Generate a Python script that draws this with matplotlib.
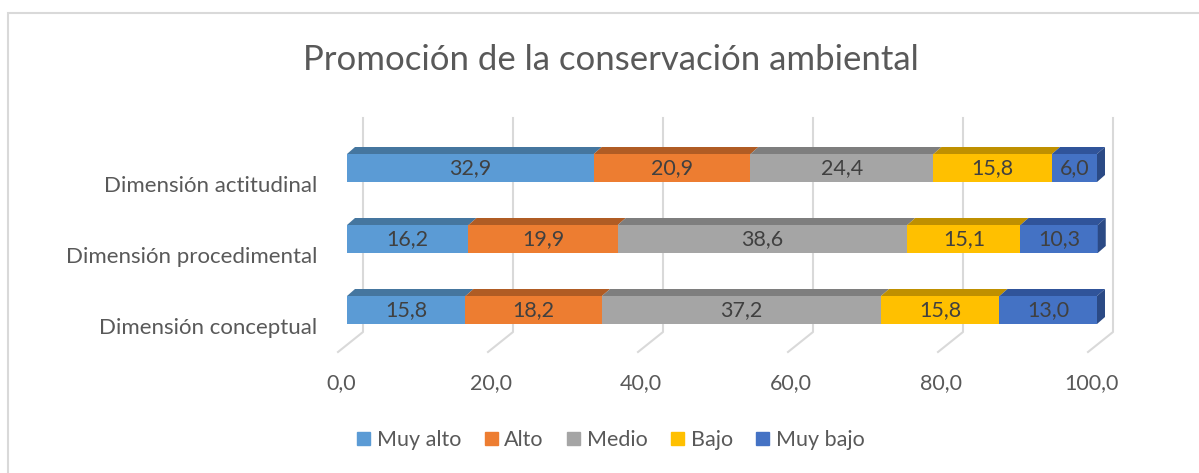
import matplotlib.pyplot as plt
from matplotlib.patches import Polygon, Patch, Rectangle
import numpy as np

plt.rcParams['font.family'] = ['Lato', 'DejaVu Sans']

# datos
categories = ["Dimensión conceptual", "Dimensión procedimental", "Dimensión actitudinal"]
series = ["Muy alto", "Alto", "Medio", "Bajo", "Muy bajo"]
muy_alto = [15.8, 16.2, 32.9]
alto = [18.2, 19.9, 20.9]
medio = [37.2, 38.6, 24.4]
bajo = [15.8, 15.1, 15.8]
muy_bajo = [13.0, 10.3, 6.0]
ticks = [0, 20, 40, 60, 80, 100]

values = [muy_alto, alto, medio, bajo, muy_bajo]
colors = ["#5B9BD5", "#ED7D31", "#A5A5A5", "#FFC000", "#4472C4"]
tops = ["#45769F", "#B05C24", "#7E7E7E", "#BF9000", "#30549A"]
side = "#2B4A85"

W, H = 1199, 473
PX, PY = 7.5, 71.0          # pixels per unit
X0, Y0 = 347, 310           # pixel position of value 0 / first category
dx, dy = 8 / PX, 7 / PY     # 3d depth of the bars
h = 28 / PY                 # bar thickness
gx, gtop, gbot = 16 / PX, (Y0 - 118) / PY, (Y0 - 332) / PY
fx, fy = -9 / PX, (Y0 - 352) / PY

fig = plt.figure(figsize=(W / 100, H / 100), dpi=100)
ax = fig.add_axes([0, 0, 1, 1])
ax.set_xlim(-X0 / PX, (W - X0) / PX)
ax.set_ylim((Y0 - H) / PY, Y0 / PY)
ax.axis('off')

# outer border of the chart area
fig.patches.append(Rectangle((8 / W, -0.1), 1.2, 1 - 13 / H + 0.1, transform=fig.transFigure,
                             fill=False, ec="#D9D9D9", lw=1.5))

# gridlines on back wall + floor
for t in ticks:
    ax.plot([t + gx, t + gx, t + fx], [gtop, gbot, fy], color="#D9D9D9", lw=1.5, zorder=1)
    ax.text(t - 0.8, (Y0 - 383) / PY, f"{t:.1f}".replace(".", ","), ha="center", va="center",
            fontsize=15.5, color="#595959")

y = np.arange(len(categories))
left = np.zeros(len(categories))
for i, (name, vals) in enumerate(zip(series, values)):
    vals = np.array(vals)
    ax.barh(y, vals, left=left, height=h, color=colors[i], zorder=3, label=name)
    for j in range(len(categories)):
        l, r, top = left[j], left[j] + vals[j], y[j] + h / 2
        ax.add_patch(Polygon([(l, top), (l + dx, top + dy), (r + dx, top + dy), (r, top)],
                             closed=True, fc=tops[i], ec="none", zorder=3))
        if i == len(series) - 1:
            ax.add_patch(Polygon([(r, top - h), (r, top), (r + dx, top + dy), (r + dx, top - h + dy)],
                                 closed=True, fc=side, ec="none", zorder=3))
        ax.text(l + vals[j] / 2, y[j], f"{vals[j]:.1f}".replace(".", ","), ha="center", va="center",
                fontsize=15.5, color="#404040", zorder=4)
    left = left + vals

for j, c in enumerate(categories):
    ax.text(-30 / PX, y[j] - 18 / PY, c, ha="right", va="center", fontsize=16, color="#595959")

fig.text(611 / W, 1 - 70 / H, "Promoción de la conservación ambiental", ha="center", va="baseline",
         fontsize=25, color="#595959")

handles = [Patch(color=c) for c in colors]
fig.legend(handles, series, loc="center", bbox_to_anchor=(611 / W, 1 - 440 / H), ncol=5,
           frameon=False, fontsize=15.5, handlelength=0.6, handleheight=0.6, handletextpad=0.3,
           columnspacing=1.1, labelcolor="#595959")

fig.savefig("out.png", dpi=100)
